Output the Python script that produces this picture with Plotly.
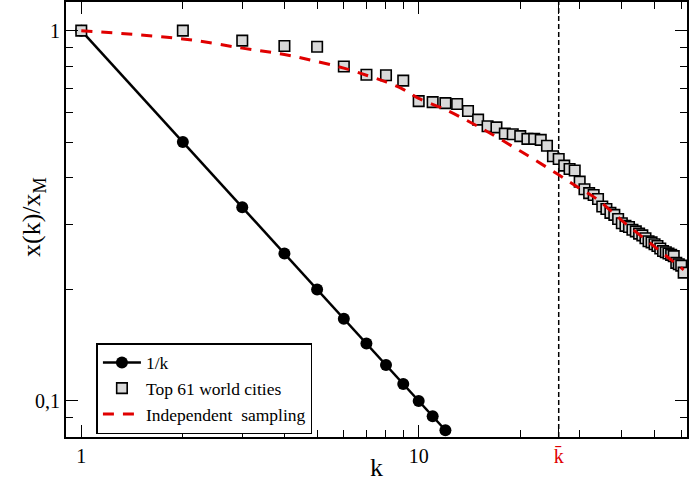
import numpy as np
import plotly.graph_objects as go

# ---- data ----
k_inv = list(range(1, 13))
inv_vals = [1.0 / k for k in k_inv]

city_rank = list(range(1, 62))
city_vals = [1.0, 1.0, 0.94, 0.909, 0.905, 0.80, 0.760, 0.758, 0.733, 0.645,
             0.641, 0.637, 0.634, 0.607, 0.575, 0.552, 0.548, 0.527, 0.525, 0.519,
             0.510, 0.510, 0.507, 0.489, 0.458, 0.450, 0.432, 0.423, 0.419, 0.391,
             0.373, 0.364, 0.360, 0.351, 0.335, 0.330, 0.322, 0.318, 0.310, 0.302,
             0.297, 0.295, 0.290, 0.287, 0.283, 0.280, 0.275, 0.270, 0.268, 0.265,
             0.262, 0.258, 0.254, 0.252, 0.250, 0.248, 0.246, 0.236, 0.234, 0.232,
             0.222]

samp_k = [1, 2, 3, 4, 5, 6, 7, 8, 9, 10, 12, 15, 20, 26, 30, 34, 40, 50, 61]
samp_vals = [1.0, 0.95, 0.897, 0.862, 0.825, 0.792, 0.758, 0.727, 0.694, 0.656,
             0.612, 0.551, 0.473, 0.408, 0.375, 0.349, 0.307, 0.261, 0.226]

k_bar = 26.0

x_major = [1, 10, k_bar]
x_major_text = ["1", "10", "<span style='color:#e00000'>k\u0304</span>"]
x_minor = [2, 3, 4, 5, 6, 7, 8, 9, 20, 30, 40, 50, 60]
y_major = [0.1, 1]
y_major_text = ["0,1", "1"]
y_minor = [0.09, 0.2, 0.3, 0.4, 0.5, 0.6, 0.7, 0.8, 0.9]

FONT = "Liberation Serif"

fig = go.Figure()

fig.add_trace(go.Scatter(
    x=k_inv, y=inv_vals, mode="lines+markers", name="1/k",
    line=dict(color="black", width=2.5),
    marker=dict(symbol="circle", size=12, color="black"),
))
fig.add_trace(go.Scatter(
    x=city_rank, y=city_vals, mode="markers", name="Top 61 world cities",
    marker=dict(symbol="square", size=10.5, color="#d9d9d9",
                line=dict(color="black", width=1.6)),
))
fig.add_trace(go.Scatter(
    x=samp_k, y=samp_vals, mode="lines", name="Independent  sampling",
    line=dict(color="#e00000", width=3, dash="11px,9px", shape="spline"),
))

fig.add_shape(type="line", xref="x", yref="paper", x0=k_bar, x1=k_bar, y0=0, y1=1,
              line=dict(color="black", width=1.5, dash="5px,3px"), layer="below")

fig.update_xaxes(
    type="log", range=[np.log10(0.901), np.log10(62.4)],
    showgrid=False, zeroline=False,
    showline=True, linecolor="black", linewidth=2, mirror="allticks",
    ticks="inside", ticklen=12, tickwidth=1.2, tickcolor="black",
    tickvals=x_major, ticktext=x_major_text,
    tickfont=dict(family=FONT, size=20, color="black"),
    minor=dict(tickvals=x_minor, ticks="inside", ticklen=7, tickwidth=1.2,
               tickcolor="black", showgrid=False),
    title=dict(text="k", font=dict(family=FONT, size=26, color="black"), standoff=4),
)
fig.update_yaxes(
    type="log", range=[np.log10(0.0799), np.log10(1.195)],
    showgrid=False, zeroline=False,
    showline=True, linecolor="black", linewidth=2, mirror="allticks",
    ticks="inside", ticklen=12, tickwidth=1.2, tickcolor="black",
    tickvals=y_major, ticktext=y_major_text,
    tickfont=dict(family=FONT, size=20, color="black"),
    minor=dict(tickvals=y_minor, ticks="inside", ticklen=7, tickwidth=1.2,
               tickcolor="black", showgrid=False),
)

fig.add_annotation(
    text="x(k)/x<sub>M</sub>", xref="paper", yref="paper",
    x=-0.052, y=0.505, xanchor="center", yanchor="middle",
    textangle=-90, showarrow=False,
    font=dict(family=FONT, size=26, color="black"),
)

fig.update_layout(
    width=689, height=482,
    margin=dict(l=66, r=2, t=2, b=45, autoexpand=False),
    paper_bgcolor="white", plot_bgcolor="white",
    font=dict(family=FONT, size=17.5, color="black"),
    showlegend=True,
    legend=dict(x=0.049, y=0.216, xanchor="left", yanchor="top",
                bgcolor="white", bordercolor="black", borderwidth=1.5,
                font=dict(family=FONT, size=17.5, color="black"),
                itemwidth=38,
                tracegroupgap=0, itemsizing="trace"),
)

fig.write_html("out.html", config={"displayModeBar": False},
               post_script="document.body.style.margin='0';document.body.style.padding='0';")
